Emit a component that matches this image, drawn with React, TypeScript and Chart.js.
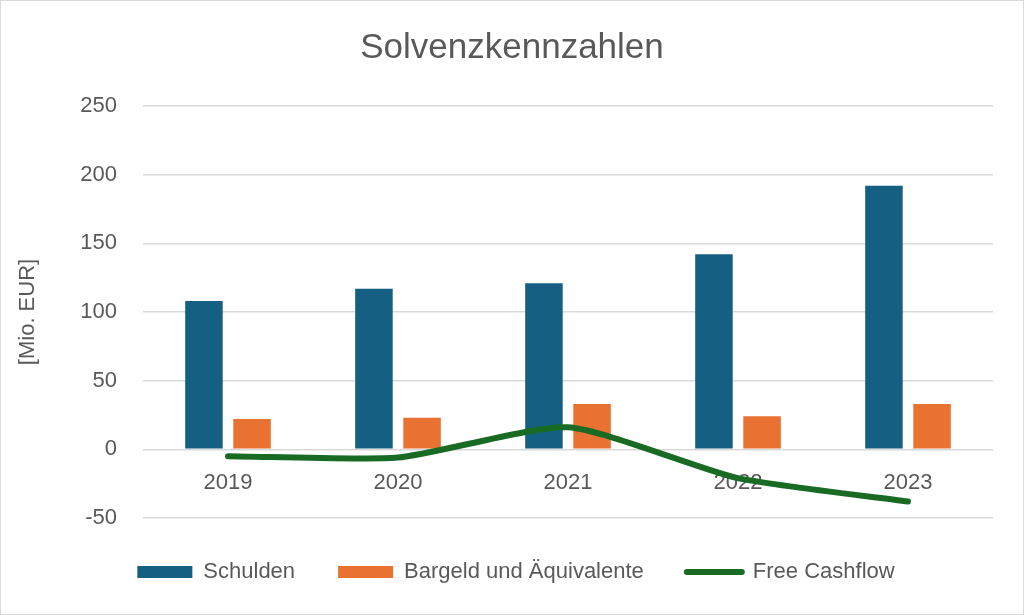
import React, { useEffect, useRef } from "react";
import { Chart, registerables } from "chart.js";

Chart.register(...registerables);

const categories = ["2019", "2020", "2021", "2022", "2023"];
const schulden = [108, 117, 121, 142, 192];
const bargeld = [22, 23, 33, 24, 33];
const freeCashflow = [-5, -6, 16, -21, -38];
const yMin = -50;
const yMax = 250;
const yStep = 50;

const FONT = "'Liberation Sans', Arial, sans-serif";
const TEXT = "#595959";

const legendShift = {
  id: "legendShift",
  afterLayout(chart: any) {
    if (chart.legend) chart.legend.left += 8;
  },
};

export default function App() {
  const ref = useRef<HTMLCanvasElement | null>(null);

  useEffect(() => {
    if (!ref.current) return;
    const chart = new Chart(ref.current, {
      type: "bar",
      plugins: [legendShift],
      data: {
        labels: categories,
        datasets: [
          {
            type: "bar",
            label: "Schulden",
            data: schulden,
            backgroundColor: "#156082",
            borderWidth: 0,
            categoryPercentage: 0.566,
            barPercentage: 0.78,
            pointStyle: "rect",
            order: 1,
          } as any,
          {
            type: "bar",
            label: "Bargeld und Äquivalente",
            data: bargeld,
            backgroundColor: "#E97132",
            borderWidth: 0,
            categoryPercentage: 0.566,
            barPercentage: 0.78,
            pointStyle: "rect",
            order: 1,
          } as any,
          {
            type: "line",
            label: "Free Cashflow",
            data: freeCashflow,
            borderColor: "#196B24",
            backgroundColor: "#196B24",
            borderWidth: 6,
            borderCapStyle: "round",
            borderJoinStyle: "round",
            tension: 0.2,
            pointRadius: 0,
            pointHoverRadius: 0,
            pointStyle: "line",
            order: 0,
          } as any,
        ],
      },
      options: {
        responsive: false,
        animation: false,
        layout: { padding: { left: 0, right: 0, top: 0, bottom: 21 } },
        font: { family: FONT },
        plugins: {
          title: {
            display: true,
            text: "Solvenzkennzahlen",
            color: TEXT,
            font: { family: FONT, size: 35, weight: "normal" },
            padding: { top: 26, bottom: 37 },
          },
          legend: {
            position: "bottom",
            labels: {
              color: TEXT,
              font: { family: FONT, size: 22 },
              usePointStyle: true,
              pointStyleWidth: 55,
              boxWidth: 55,
              boxHeight: 12,
              padding: 43,
              sort: (a: any, b: any) => a.datasetIndex - b.datasetIndex,
              generateLabels: (c: any) => {
                const items = Chart.defaults.plugins.legend.labels.generateLabels(c);
                return items.map((it: any) => {
                  const ds = c.data.datasets[it.datasetIndex];
                  if (ds.type === "line") {
                    return {
                      ...it,
                      pointStyle: "line",
                      lineWidth: 6,
                      lineCap: "round",
                      strokeStyle: "#196B24",
                      fillStyle: "#196B24",
                    };
                  }
                  return { ...it, pointStyle: "rect", lineWidth: 0, fillStyle: ds.backgroundColor, strokeStyle: ds.backgroundColor };
                });
              },
            },
          },
          tooltip: { enabled: false },
        },
        scales: {
          x: {
            position: { y: 0 } as any,
            grid: { display: false, drawTicks: false },
            border: { display: false },
            ticks: {
              color: TEXT,
              font: { family: FONT, size: 22 },
              padding: 20,
            },
          },
          y: {
            min: yMin,
            max: yMax,
            ticks: {
              stepSize: yStep,
              color: TEXT,
              font: { family: FONT, size: 22 },
              padding: 26,
            },
            grid: { color: "#d9d9d9", lineWidth: 1.5, drawTicks: false },
            border: { display: false },
            title: {
              display: true,
              text: "[Mio. EUR]",
              color: TEXT,
              font: { family: FONT, size: 22 },
              padding: { top: 14, bottom: 0 },
            },
            afterFit: (scale: any) => {
              scale.width = 142;
            },
          },
          yRight: {
            position: "right",
            min: yMin,
            max: yMax,
            grid: { display: false, drawTicks: false },
            border: { display: false },
            ticks: { display: false },
            afterFit: (scale: any) => {
              scale.width = 30;
            },
          },
        },
      },
    });
    return () => chart.destroy();
  }, []);

  return (
    <div
      style={{
        position: "absolute",
        left: 0,
        top: 0,
        width: 1024,
        height: 615,
        boxSizing: "border-box",
        border: "1px solid #d9d9d9",
        background: "#ffffff",
      }}
    >
      <canvas ref={ref} width={1022} height={613} style={{ display: "block", width: 1022, height: 613 }} />
    </div>
  );
}
